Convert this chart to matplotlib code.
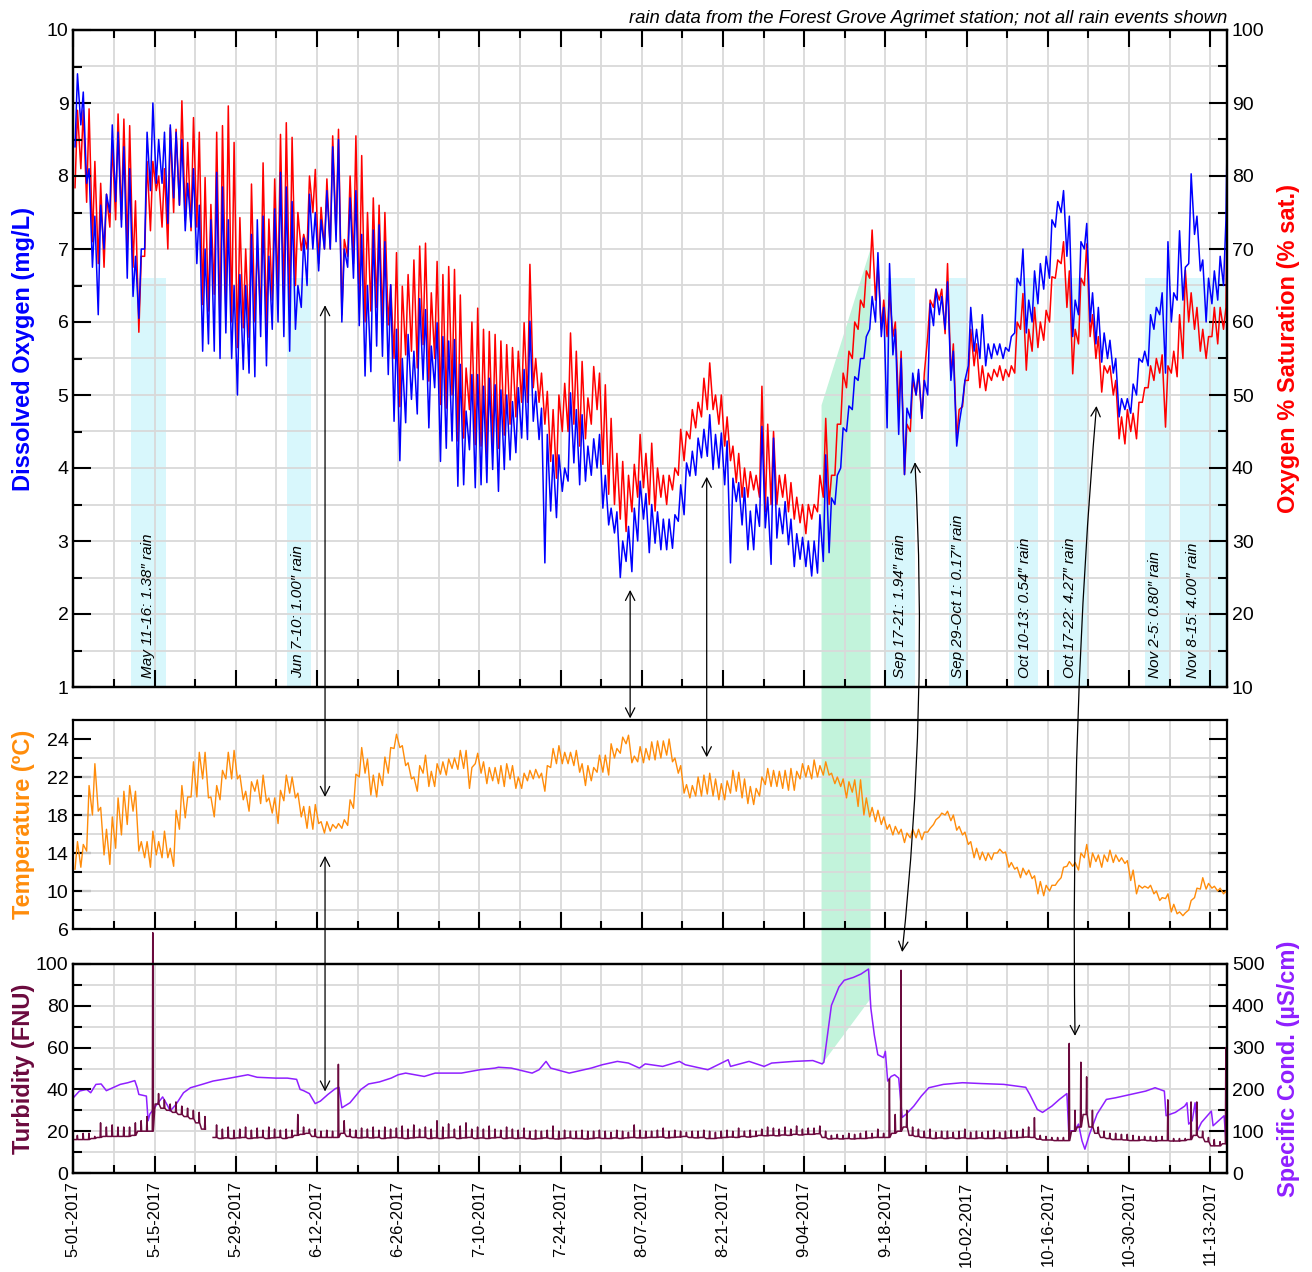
import numpy as np
import matplotlib
matplotlib.use('Agg')
import matplotlib.pyplot as plt
import matplotlib.dates as mdates
from matplotlib.ticker import FixedLocator, FixedFormatter, MultipleLocator, FuncFormatter
from matplotlib.patches import Polygon, ConnectionPatch

plt.rcParams['font.family'] = ['Liberation Sans', 'DejaVu Sans']

START = np.datetime64('2017-05-01T00:00')
X_END = 198.9          # right edge of the chart, days after 5-01

# daily morning low / evening high (day 0 = 5-01-2017)
do_low = [8.4, 8.7, 7.9, 6.75, 6.1, 7.0, 7.5, 7.65, 7.3, 6.6,
          6.35, 6.05, 7.0, 7.8, 7.9, 7.9, 7.35, 7.7, 7.6, 7.25,
          7.3, 6.8, 5.6, 5.7, 5.6, 5.5, 5.85, 5.5, 5.0, 5.35,
          5.3, 5.25, 5.8, 5.4, 5.9, 6.0, 5.8, 5.6, 5.9, 6.2,
          6.5, 7.0, 6.7, 7.0, 7.0, 7.1, 6.0, 6.75, 6.6, 5.95,
          5.26, 5.32, 5.67, 5.53, 5.28, 4.64, 4.1, 4.62, 4.94, 4.74,
          5.21, 4.55, 5.1, 4.09, 4.27, 4.37, 3.75, 3.77, 4.25, 3.73,
          3.77, 3.8, 3.98, 3.68, 3.98, 4.11, 4.21, 4.41, 4.39, 4.64,
          4.39, 2.7, 3.41, 3.32, 3.68, 3.82, 4.07, 3.77, 3.82, 3.9,
          4.0, 3.45, 3.22, 3.11, 2.5, 2.72, 2.58, 3.0, 3.3, 2.84,
          2.97, 2.88, 2.88, 2.9, 3.27, 3.36, 3.89, 3.9, 4.14, 4.16,
          3.98, 4.0, 3.77, 2.7, 3.54, 3.22, 2.88, 2.88, 3.2, 3.18,
          2.68, 3.04, 3.1, 2.95, 2.65, 2.75, 2.65, 2.52, 2.56, 2.72,
          2.84, 3.5, 4.0, 4.5, 4.8, 5.2, 5.5, 5.9, 6.0, 5.8,
          4.55, 5.55, 4.46, 3.91, 4.68, 5.0, 4.68, 5.0, 5.95, 6.1,
          5.9, 5.2, 4.3, 4.9, 5.4, 5.6, 5.5, 5.4, 5.5, 5.55,
          5.5, 5.6, 5.85, 6.5, 5.85, 6.0, 6.25, 6.45, 6.6, 7.3,
          7.5, 6.9, 5.8, 6.1, 7.0, 6.0, 5.7, 5.45, 5.5, 5.3,
          4.7, 4.8, 4.75, 5.0, 5.45, 5.4, 5.9, 6.1, 5.3, 6.0,
          6.3, 6.3, 6.8, 7.2, 6.7, 6.0, 6.25, 6.3, 6.5]
do_high = [9.4, 9.15, 8.1, 7.45, 7.6, 7.75, 8.7, 8.6, 8.4, 8.1,
           6.9, 7.0, 8.6, 9.0, 8.5, 8.6, 8.7, 8.6, 8.5, 7.9,
           8.1, 7.6, 7.0, 7.4, 8.05, 7.85, 7.4, 6.5, 6.65, 6.5,
           7.2, 7.4, 7.45, 6.9, 7.55, 8.05, 7.85, 7.65, 6.5, 7.15,
           7.75, 7.5, 7.4, 7.8, 8.4, 8.5, 7.0, 7.7, 7.8, 7.2,
           6.5, 7.26, 7.33, 7.1, 6.51, 5.9, 5.5, 5.83, 5.6, 6.32,
           6.17, 5.67, 5.99, 5.8, 5.74, 5.76, 5.42, 4.78, 5.28, 5.28,
           5.12, 5.23, 5.14, 5.07, 5.0, 4.91, 5.1, 5.35, 6.01, 5.05,
           4.82, 4.46, 4.18, 4.18, 4.0, 5.03, 4.8, 4.73, 4.3, 4.4,
           4.46, 3.9, 3.45, 3.4, 3.0, 3.2, 3.45, 3.82, 3.65, 3.5,
           3.4, 3.3, 3.3, 3.36, 3.77, 4.07, 4.23, 4.41, 4.53, 4.73,
           4.46, 4.48, 4.37, 3.86, 3.8, 3.73, 3.41, 3.5, 4.57, 3.6,
           4.41, 3.45, 3.54, 3.3, 3.1, 3.05, 3.0, 3.0, 3.36, 4.18,
           3.59, 3.9, 4.55, 4.85, 5.25, 5.5, 5.8, 6.35, 6.95, 6.2,
           6.8, 5.9, 5.5, 4.82, 5.3, 5.35, 5.2, 6.25, 6.45, 6.35,
           6.55, 5.6, 4.6, 5.2, 6.2, 5.9, 6.1, 5.7, 5.7, 5.7,
           5.65, 5.8, 6.6, 7.0, 6.3, 6.7, 6.8, 6.9, 7.4, 7.65,
           7.8, 7.45, 6.3, 7.1, 7.35, 6.4, 6.2, 5.85, 5.75, 5.5,
           4.95, 4.95, 5.15, 5.5, 5.6, 6.1, 6.2, 6.4, 7.1, 6.4,
           7.25, 6.75, 8.03, 7.45, 6.85, 6.6, 6.7, 6.9, 7.4]
do_end = 8.4

sat_low = [78.4, 81, 76.4, 71, 68, 67.5, 73, 74, 74, 70,
           67.5, 58.6, 69, 72.5, 78, 73, 70, 75, 76, 73.9,
           72.5, 73, 62.4, 61.5, 63.8, 59.2, 61.5, 60, 56.5, 59.2,
           57.9, 60, 61, 59, 63, 64.3, 62.9, 62, 65, 69.8,
           70, 75, 68, 70, 70, 72, 61, 69, 68, 62,
           60, 61.5, 62, 60, 59.6, 55, 48.4, 55.5, 56, 53.7,
           56.9, 51.9, 55, 48.7, 48.2, 50, 43.7, 44.1, 48, 43.2,
           43, 41.8, 43, 42.7, 44.5, 46, 47, 49, 49, 51,
           49, 46, 40.9, 38.6, 45, 45, 46, 43, 44, 46,
           48, 40.5, 36.4, 35, 33, 31.3, 34, 36, 37.3, 35,
           34.1, 36, 35, 37, 39, 41, 44, 45.5, 47, 48,
           48, 46, 43, 41, 38, 36, 36, 37, 36, 34,
           35, 35, 36, 34, 33, 32.5, 31, 33, 34, 36,
           35, 39, 46, 51, 55, 59, 62, 66, 63, 59,
           58, 58, 48, 39.1, 45, 50, 46.8, 58, 62, 63,
           58.4, 52.5, 44, 48.4, 52, 54, 51, 50.6, 52, 52.5,
           52, 52.5, 53, 59, 53.4, 56, 56.5, 57.5, 60, 66,
           68, 62, 52.9, 57, 65, 58, 55, 50.4, 53, 50,
           44, 43.3, 45, 44, 49, 51, 52, 53, 45.6, 53,
           52.5, 55, 60, 59, 56, 55, 58, 57, 59]
sat_high = [89, 89, 89.2, 82, 79, 77.5, 84.4, 88.5, 87.8, 86.9,
            76.6, 69, 82, 82, 80, 81, 86.6, 86.4, 90.3, 84.6,
            88, 86, 79.8, 76.1, 86, 86.9, 89.6, 84.6, 74.3, 70,
            78.9, 70.4, 81.8, 74.1, 79.6, 85.7, 87.3, 85.3, 75, 72,
            80, 80.9, 75.7, 79.6, 85.5, 86.4, 71.3, 80, 85.5, 82.8,
            75, 77, 76, 75, 65.1, 69.5, 64.9, 66.5, 68.5, 70.4,
            70.8, 64, 68.3, 66.5, 67.6, 67.2, 63.7, 53.7, 60, 61.9,
            59, 58.7, 58.3, 57.4, 56.9, 56.5, 56, 59.9, 67.9, 55,
            53, 50.5, 48, 50, 51.6, 58.5, 56, 54.6, 49.6, 53.9,
            53, 51.4, 46.8, 42, 40.9, 39, 40.5, 44.6, 42, 43.4,
            40, 39, 39, 40, 45.3, 45, 48, 49, 52.3, 54.4,
            50, 50, 47, 43, 42, 40, 39.5, 39, 51.2, 46,
            45, 39, 39.1, 38, 36, 35, 35, 35, 39, 46.8,
            39, 46, 53, 56, 60, 63, 67, 72.6, 68, 63,
            64, 60, 56, 46, 52, 53, 53, 63, 64.5, 64.5,
            68, 57, 48, 52, 59, 57, 54, 53, 53.5, 54,
            53.5, 54, 60, 63.9, 59, 62, 60, 61.6, 66.2, 68.5,
            71, 67, 59, 66, 70.7, 61, 58, 54, 54, 52,
            47, 48, 47.5, 49, 51, 54, 55, 55.5, 54, 56,
            61, 67.1, 64, 62, 59, 58, 62, 62, 62]
sat_end = 73

temp_low = [12.3, 12.5, 14.2, 18.0, 18.4, 13.8, 12.8, 14.5, 15.9, 17.0,
            18.4, 14.2, 13.5, 12.5, 13.8, 13.5, 13.5, 12.6, 16.5, 17.7,
            19.9, 19.9, 21.8, 19.8, 17.8, 19.6, 21.8, 21.8, 21.8, 19.6,
            18.4, 20.5, 19.2, 19.4, 18.2, 17.1, 19.5, 20.3, 19.8, 17.8,
            16.6, 16.5, 17.1, 16.1, 16.3, 16.6, 16.6, 16.9, 18.7, 22.0,
            22.4, 20.1, 19.9, 21.1, 22.4, 25.0, 25.1, 23.2, 21.8, 20.5,
            22.4, 21.0, 21.0, 22.3, 22.2, 22.9, 22.8, 22.9, 20.8, 23.4,
            22.4, 21.3, 21.6, 21.3, 21.0, 21.8, 20.8, 20.8, 21.6, 21.8,
            21.9, 20.5, 23.0, 23.4, 23.4, 23.4, 23.2, 22.5, 21.1, 21.6,
            22.5, 22.5, 22.2, 24.0, 24.5, 25.5, 23.5, 23.6, 23.5, 23.8,
            23.8, 24.0, 24.3, 23.6, 22.4, 20.3, 19.8, 20.0, 20.0, 20.2,
            20.0, 19.6, 19.6, 20.3, 20.5, 19.8, 19.2, 19.1, 20.0, 21.2,
            21.0, 21.0, 20.8, 20.6, 20.6, 21.8, 22.0, 21.8, 22.0, 22.2,
            22.2, 21.3, 21.0, 19.8, 20.4, 18.9, 18.0, 17.8, 17.3, 17.0,
            16.5, 15.9, 16.0, 15.1, 15.6, 15.6, 15.4, 16.2, 17.0, 17.8,
            18.0, 17.4, 16.4, 15.9, 14.9, 13.5, 13.3, 13.2, 13.3, 14.0,
            14.0, 12.5, 12.3, 11.4, 11.7, 11.3, 9.7, 9.5, 10.0, 10.6,
            11.4, 12.6, 12.6, 12.2, 13.5, 12.5, 13.1, 12.5, 13.1, 13.0,
            13.1, 12.9, 11.1, 9.7, 10.3, 10.3, 9.7, 9.0, 9.2, 7.8,
            7.6, 7.4, 8.0, 9.3, 10.2, 10.2, 10.3, 10.0, 9.7]
temp_high = [15.2, 14.9, 21.1, 23.4, 18.8, 16.5, 17.8, 19.8, 20.5, 21.1,
             20.5, 15.2, 15.2, 16.3, 15.2, 16.3, 14.5, 18.5, 21.1, 19.9,
             23.6, 24.6, 24.6, 19.9, 21.1, 22.7, 24.6, 24.8, 22.2, 20.5,
             21.5, 21.7, 22.2, 19.8, 19.8, 20.6, 22.2, 22.0, 20.3, 18.9,
             18.9, 19.1, 17.3, 17.3, 17.0, 17.1, 17.5, 19.6, 22.3, 25.1,
             23.9, 22.2, 22.4, 24.1, 25.1, 26.5, 25.3, 23.5, 22.0, 23.2,
             24.3, 22.6, 23.4, 23.6, 23.9, 24.0, 24.8, 24.8, 23.0, 24.5,
             23.6, 23.0, 23.0, 23.2, 23.4, 23.2, 22.0, 22.4, 22.7, 22.8,
             22.4, 23.2, 25.0, 25.3, 24.6, 24.6, 24.8, 23.4, 23.2, 23.0,
             24.3, 24.3, 25.5, 25.0, 26.2, 26.4, 24.2, 25.2, 25.0, 25.7,
             25.8, 25.8, 26.0, 24.0, 23.2, 21.2, 21.1, 22.0, 22.2, 22.4,
             21.8, 21.3, 21.6, 22.7, 22.5, 21.8, 21.0, 20.8, 22.0, 22.9,
             22.7, 22.6, 22.7, 22.9, 22.6, 23.4, 23.2, 23.8, 23.2, 23.6,
             22.4, 22.0, 21.8, 21.5, 21.7, 21.7, 19.8, 18.8, 18.5, 17.8,
             17.0, 16.8, 16.5, 16.1, 16.5, 16.5, 16.2, 16.6, 17.5, 18.2,
             18.4, 18.0, 16.8, 16.2, 15.2, 14.5, 14.1, 14.0, 14.0, 14.4,
             14.1, 13.0, 12.5, 12.4, 12.2, 11.6, 11.0, 10.6, 10.6, 11.0,
             12.5, 13.1, 13.0, 14.0, 14.9, 14.0, 13.8, 13.8, 14.3, 13.8,
             13.5, 13.2, 12.2, 10.6, 10.5, 10.6, 10.0, 9.3, 9.7, 8.6,
             7.8, 7.7, 9.0, 10.3, 11.4, 10.8, 10.5, 10.3, 10.0]
temp_end = 9.6

nan = np.nan
# turbidity: daily baseline and the short daily spike above it
turb_base = [16, 16, 16, 16.5, 17, 17.5, 17.5, 17.5, 17.5, 17.5,
             18, 20, 20, 20, 33, 31, 30, 29, 28, 27,
             26, 24, 21, nan, 17, 16.5, 16.8, 16.5, 16.8, 17,
             16.5, 16.8, 17, 16.5, 16.8, 17, 16.5, 17, 18, 18.5,
             19, 17.5, 17, 17, 17, 17, 19, 17.5, 17, 16.8,
             17, 16.8, 17, 16.5, 16.8, 17, 16.8, 16.5, 16.8, 17,
             17, 16.5, 16.8, 16.5, 16.8, 17, 16.5, 16.8, 17, 16.5,
             16.8, 16.5, 16.8, 17, 16.5, 16.8, 16.5, 16.8, 16.5, 16.3,
             16.5, 16.8, 16.5, 16.3, 16.5, 16.8, 16.5, 16.5, 16.3, 16.5,
             16.8, 16.5, 16.5, 16.8, 16.5, 16.8, 17, 16.8, 16.8, 17,
             17, 17.2, 16.8, 17, 17.2, 17.5, 17, 16.8, 17, 16.5,
             16.5, 16.8, 17, 17.2, 17, 17.5, 17.2, 17.5, 18, 17.8,
             18, 17.8, 18.2, 18, 18.5, 18.2, 18.5, 18.5, 18.8, 17,
             16.3, 16.5, 16.3, 16.5, 16.3, 16.5, 16.5, 16.8, 17, 17,
             17, 19, 20, 22, 18, 17.5, 17, 16.8, 16.5, 16.8,
             16.5, 16.8, 16.5, 16.8, 16.5, 16.5, 16.8, 16.5, 16.5, 16.8,
             16.5, 16.8, 16.8, 17, 17.2, 17, 16.2, 15.8, 15.8, 15.5,
             15.5, 15.5, 20, 22, 28, 22, 19, 17, 16.5, 16,
             16, 15.8, 15.5, 15.5, 15.8, 15.5, 15.3, 15.5, 15.5, 15.3,
             15.3, 15.5, 16, 18, 17, 15, 13, 13, 14]
turb_peak = [18, 19, 19, 17.5, 24, 22, 23, 22, 22, 22,
             24, 25, 27, 115, 38, 35, 33, 34, 32, 31,
             30, 29, 27, nan, 23, 21, 22, 20.5, 21, 22,
             20.5, 21.5, 20.5, 22, 21, 20.5, 21, 20.5, 28, 22,
             21, 21, 20, 20.5, 20, 52, 25, 21, 20.5, 21.5,
             21, 22, 20.5, 22, 21, 21.5, 22.5, 21, 23, 21,
             22, 21, 25, 22, 23.5, 21, 22.5, 24, 21, 22,
             21, 22.5, 21, 20.5, 22, 21, 20.5, 21.5, 20, 20.5,
             20, 20.5, 22.5, 20, 20.5, 20, 20, 20.5, 20, 20,
             20.5, 20, 19.5, 20.5, 20, 19.5, 23, 20.5, 20, 20,
             20.5, 21.5, 20, 20.5, 20, 19.5, 20, 20, 20.5, 20,
             19.5, 20, 20.5, 20, 21.5, 20, 20.5, 20, 21, 22,
             21.5, 21, 22, 21, 22.5, 21, 21.5, 21.5, 22.5, 20,
             18, 18.5, 18, 19, 18.5, 19, 20, 19, 21, 19,
             45, 28, 97, 30, 22, 21, 20, 21, 19.5, 20,
             20, 19.5, 20, 21, 19.5, 20, 19.5, 20, 20.5, 19.5,
             20, 20.5, 20, 21, 22, 26.5, 18, 17.5, 17, 17,
             17, 62, 30, 53, 46, 30, 22, 20, 19, 19,
             18.5, 18.5, 18, 17.5, 17.5, 17.5, 17.5, 17.5, 35, 16.5,
             16.5, 16.5, 34, 34, 20, 17, 16, 15, 60]

# specific conductance, read at turning points (day, uS/cm)
cond_days = [0, 1.05, 2.3, 3.0, 3.9, 4.8, 5.7, 6.8, 8.1, 9.4, 10.6, 11.0, 11.3, 12.6,
             12.9, 13.2, 14.2, 15.4, 16.3, 16.7, 17.7, 19.0, 20.2, 22.2, 24.1, 26.6,
             30.1, 31.7, 34.9, 36.9, 38.5, 39.1, 39.7, 40.7, 41.7, 42.6, 43.9, 45.2,
             45.8, 46.3, 47.7, 49.6, 50.9, 52.8, 54.8, 56.0, 57.3, 60.5, 62.4, 66.9,
             70.1, 72.7, 73.3, 75.5, 79.1, 80.3, 81.5, 82.3, 85.5, 89.3, 91.2, 93.8,
             95.7, 97.6, 98.6, 101.6, 104.5, 105.5, 109.4, 112.9, 113.3, 116.5, 119.1,
             120.4, 124.2, 127.5, 129.1, 129.4, 130.7, 132.0, 132.9, 134.5, 135.8,
             137.1, 137.5, 138.1, 138.7, 139.7, 140.0, 140.4, 141.0, 141.6, 142.3,
             142.9, 143.6, 144.9, 146.2, 147.5, 150.0, 153.3, 156.5, 160.4, 164.2,
             164.9, 166.2, 167.1, 168.7, 170.0, 171.3, 171.6, 172.6, 173.3, 173.9,
             174.4, 175.2, 176.5, 178.1, 179.7, 182.3, 184.9, 186.5, 188.1, 188.4,
             190.0, 191.6, 192.0, 192.3, 192.9, 193.4, 193.8, 194.5, 196.2, 196.5,
             198.4, 198.7]
cond_vals = [180, 196, 200, 192, 212, 213, 197, 204, 212, 216, 221, 205, 188, 184,
             125, 141, 160, 182, 160, 148, 164, 192, 204, 212, 220, 226,
             235, 229, 227, 227, 224, 200, 197, 190, 166, 172, 188, 202,
             205, 156, 168, 200, 213, 218, 227, 235, 239, 231, 239, 239,
             247, 251, 253, 251, 239, 247, 267, 251, 239, 251, 259, 267,
             263, 251, 261, 255, 267, 259, 247, 271, 255, 267, 255,
             263, 267, 269, 261, 265, 401, 445, 461, 468, 476,
             488, 394, 330, 283, 276, 291, 220, 231, 235, 227,
             133, 141, 160, 184, 204, 212, 216, 214, 212, 205,
             188, 152, 145, 160, 176, 190, 101, 101, 117, 77,
             57, 93, 141, 176, 180, 188, 196, 204, 196, 137,
             145, 160, 168, 117, 125, 168, 101, 121, 148, 113,
             137, 81]

rain_labels = ['May 11-16: 1.38\u2033 rain', 'Jun 7-10: 1.00\u2033 rain',
               'Sep 17-21: 1.94\u2033 rain', 'Sep 29-Oct 1: 0.17\u2033 rain',
               'Oct 10-13: 0.54\u2033 rain', 'Oct 17-22: 4.27\u2033 rain',
               'Nov 2-5: 0.80\u2033 rain', 'Nov 8-15: 4.00\u2033 rain']
rain_start = [10.0, 36.8, 139.8, 151.0, 162.1, 169.0, 184.8, 190.8]
rain_end = [16.0, 41.0, 145.1, 154.2, 166.3, 175.1, 189.1, X_END]
label_day = [12.9, 38.7, 142.5, 152.6, 164.1, 171.8, 186.5, 193.0]


def to_time(days):
    return START + np.round(np.asarray(days, float) * 86400).astype('timedelta64[s]')


def dnum(day):
    return mdates.date2num(to_time([day])[0])


def diel(low, high, end=None):
    d = np.arange(len(low), dtype=float)
    days = np.column_stack([d + 0.3, d + 0.72]).ravel()
    vals = np.column_stack([low, high]).ravel()
    if end is not None:
        days = np.append(days, X_END)
        vals = np.append(vals, end)
    return to_time(days), vals


def spiky(base, peak):
    # flat baseline through the day with a short spike in the afternoon
    d = np.arange(len(base), dtype=float)
    days = np.column_stack([d + 0.1, d + 0.62, d + 0.7, d + 0.78]).ravel()
    vals = np.column_stack([base, base, peak, base]).ravel()
    return to_time(days), vals


def date_label(x, pos):
    dt = mdates.num2date(x)
    return '%d-%02d-%d' % (dt.month, dt.day, dt.year)


GRID = dict(color='#d9d9d9', linewidth=1.3)
W, H = 1312, 1272

fig = plt.figure(figsize=(W / 100, H / 100), dpi=100)


def rect(top_px, bot_px):
    return [73.3 / W, 1 - bot_px / H, (1227 - 73.3) / W, (bot_px - top_px) / H]


ax_sat = fig.add_axes(rect(30, 687))
ax_do = fig.add_axes(rect(30, 687), sharex=ax_sat)
ax_t = fig.add_axes(rect(720, 929), sharex=ax_sat)
ax_c = fig.add_axes(rect(964, 1173), sharex=ax_sat)
ax_tb = fig.add_axes(rect(964, 1173), sharex=ax_sat)
for a, z in [(ax_sat, 1), (ax_do, 2), (ax_t, 1), (ax_c, 1), (ax_tb, 2)]:
    a.set_zorder(z)
    a.patch.set_visible(False)
    for s in a.spines.values():
        s.set_linewidth(1.6)

# lines
t, v = diel(sat_low, sat_high, sat_end)
ax_sat.plot(t, v, color='red', lw=1.1)
t, v = diel(do_low, do_high, do_end)
ax_do.plot(t, v, color='blue', lw=1.1)
t, v = diel(temp_low, temp_high, temp_end)
ax_t.plot(t, v, color='#ff8c0a', lw=1.0)
ax_c.plot(to_time(cond_days), cond_vals, color='#8f1fff', lw=1.1)
t, v = spiky(turb_base, turb_peak)
ax_tb.plot(t, v, color='#6b0a3e', lw=1.1, clip_on=False)

ax_sat.set_xlim(to_time([0])[0], to_time([X_END])[0])
ax_sat.set_ylim(10, 100)
ax_do.set_ylim(1, 10)
ax_t.set_ylim(6, 28)
ax_c.set_ylim(0, 500)
ax_tb.set_ylim(0, 100)

# rain bands
for s0, s1, lab, ld in zip(rain_start, rain_end, rain_labels, label_day):
    ax_sat.axvspan(to_time([s0])[0], to_time([s1])[0], ymin=0, ymax=(66 - 10) / 90,
                   color='#d8f7fc', lw=0, zorder=1)
    ax_sat.text(to_time([ld])[0], 11.3, lab, rotation=90, ha='center', va='bottom',
                fontsize=11, style='italic', zorder=3)

# x ticks (shared)
ax_sat.xaxis.set_major_locator(FixedLocator(mdates.date2num(to_time(np.arange(0, 199, 14)))))
ax_sat.xaxis.set_minor_locator(FixedLocator(mdates.date2num(to_time(np.arange(7, 199, 14)))))
ax_sat.xaxis.set_major_formatter(FuncFormatter(date_label))

for a in (ax_sat, ax_c):
    a.tick_params(axis='x', which='both', length=0, labelbottom=False)
for a, top in ((ax_do, True), (ax_t, False), (ax_tb, False)):
    a.tick_params(axis='x', which='major', direction='in', length=12, width=1.5, top=top, bottom=True)
    a.tick_params(axis='x', which='minor', direction='in', length=5.5, width=1.5, top=top, bottom=True)
    a.tick_params(axis='x', labelbottom=False)
ax_tb.tick_params(axis='x', labelbottom=True, labelrotation=90, labelsize=12, pad=6)

# y axes
YT = dict(direction='in', width=1.5, labelsize=14)
ax_do.yaxis.set_major_locator(MultipleLocator(1))
ax_do.yaxis.set_minor_locator(MultipleLocator(0.5))
ax_do.tick_params(axis='y', which='major', length=13, left=True, right=False, **YT)
ax_do.tick_params(axis='y', which='minor', length=6.5, left=True, right=False, direction='in', width=1.5)

ax_sat.yaxis.tick_right()
ax_sat.yaxis.set_major_locator(MultipleLocator(10))
ax_sat.yaxis.set_minor_locator(MultipleLocator(5))
ax_sat.tick_params(axis='y', which='major', length=13, left=False, right=True, labelright=True, labelleft=False, **YT)
ax_sat.tick_params(axis='y', which='minor', length=6.5, left=False, right=True, direction='in', width=1.5)

ax_t.yaxis.set_major_locator(FixedLocator([6, 10, 14, 18, 22, 26]))
ax_t.yaxis.set_major_formatter(FixedFormatter(['6', '10', '14', '18', '22', '24']))
ax_t.yaxis.set_minor_locator(FixedLocator(np.arange(8, 25, 2)))
ax_t.yaxis.remove_overlapping_locs = False
ax_t.tick_params(axis='y', which='major', length=13, left=True, right=True, **YT)
ax_t.tick_params(axis='y', which='minor', length=6.5, left=True, right=True, direction='in', width=1.5)

ax_tb.yaxis.set_major_locator(MultipleLocator(20))
ax_tb.yaxis.set_minor_locator(MultipleLocator(10))
ax_tb.tick_params(axis='y', which='major', length=13, left=True, right=False, **YT)
ax_tb.tick_params(axis='y', which='minor', length=6.5, left=True, right=False, direction='in', width=1.5)

ax_c.yaxis.tick_right()
ax_c.yaxis.set_major_locator(MultipleLocator(100))
ax_c.yaxis.set_minor_locator(MultipleLocator(50))
ax_c.tick_params(axis='y', which='major', length=13, left=False, right=True, labelright=True, labelleft=False, **YT)
ax_c.tick_params(axis='y', which='minor', length=6.5, left=False, right=True, direction='in', width=1.5)

# grids live on the lower axes so the lines stay on top
ax_sat.grid(True, which='both', axis='both', **GRID)
ax_c.grid(True, which='both', axis='both', **GRID)
ax_t.grid(True, which='both', axis='x', **GRID)
ax_t.grid(True, which='minor', axis='y', **GRID)

# axis titles
LAB = dict(fontsize=17, fontweight='bold')
ax_do.set_ylabel('Dissolved Oxygen (mg/L)', color='blue', **LAB)
ax_do.yaxis.set_label_coords(-0.033, 0.515)
ax_sat.yaxis.set_label_position('right')
ax_sat.set_ylabel('Oxygen % Saturation (% sat.)', color='red', **LAB)
ax_sat.yaxis.set_label_coords(1.043, 0.515)
ax_t.set_ylabel('Temperature (\u00baC)', color='#ff8c0a', **LAB)
ax_t.yaxis.set_label_coords(-0.033, 0.5)
ax_tb.set_ylabel('Turbidity (FNU)', color='#6b0a3e', **LAB)
ax_tb.yaxis.set_label_coords(-0.033, 0.5)
ax_c.yaxis.set_label_position('right')
ax_c.set_ylabel('Specific Cond. (\u00b5S/cm)', color='#8f1fff', **LAB)
ax_c.yaxis.set_label_coords(1.043, 0.5)

fig.text(1227 / W, 1 - 23 / H,
         'rain data from the Forest Grove Agrimet station; not all rain events shown',
         ha='right', va='baseline', fontsize=13.3, style='italic')


# green highlight of the Sept. high-conductance event, spanning all panels
def fig_xy(ax, day, val):
    return fig.transFigure.inverted().transform(ax.transData.transform((dnum(day), val)))


poly = Polygon([fig_xy(ax_do, 129.0, 1.0), fig_xy(ax_do, 129.0, 4.86),
                fig_xy(ax_do, 137.45, 7.0), fig_xy(ax_c, 137.45, 417),
                fig_xy(ax_c, 129.0, 259)],
               closed=True, transform=fig.transFigure, facecolor='#c2f3db',
               edgecolor='none', zorder=0)
fig.add_artist(poly)


def link(axA, dA, vA, axB, dB, vB, rad=0.0):
    cp = ConnectionPatch((dnum(dA), vA), (dnum(dB), vB),
                         coordsA=axA.transData, coordsB=axB.transData,
                         arrowstyle='<->,head_length=0.55,head_width=0.28',
                         connectionstyle='arc3,rad=%s' % rad,
                         color='black', lw=0.9, mutation_scale=12,
                         shrinkA=0, shrinkB=0, zorder=5)
    fig.add_artist(cp)


link(ax_do, 43.4, 6.23, ax_t, 43.4, 19.9)
link(ax_t, 43.4, 13.7, ax_tb, 43.4, 39.0)
link(ax_do, 96.0, 2.33, ax_t, 96.0, 28.17)
link(ax_do, 109.2, 3.88, ax_t, 109.2, 24.08)
link(ax_do, 145.1, 4.08, ax_tb, 142.9, 105.7, rad=-0.04)
link(ax_do, 176.4, 4.85, ax_tb, 172.7, 65.6, rad=0.025)

fig.savefig('out.png', dpi=100)
